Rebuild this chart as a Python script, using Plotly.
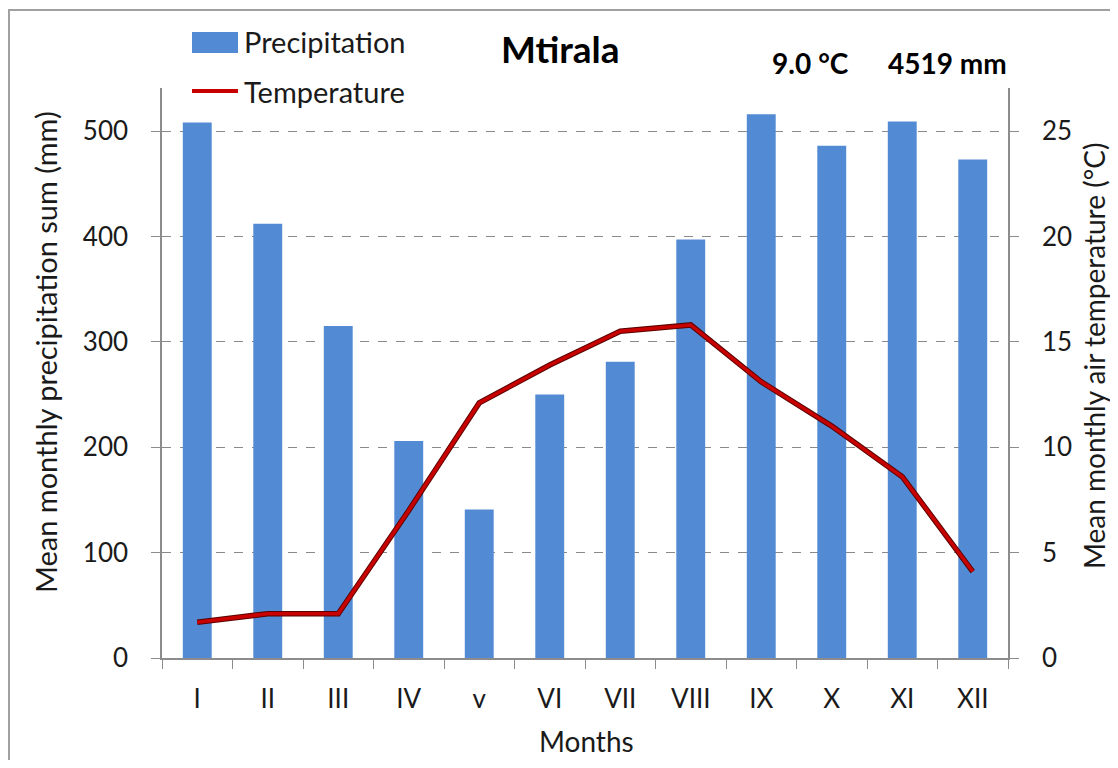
import plotly.graph_objects as go

months = ["I", "II", "III", "IV", "v", "VI", "VII", "VIII", "IX", "X", "XI", "XII"]
precipitation = [508, 412, 315, 206, 141, 250, 281, 397, 516, 486, 509, 473]
temperature = [1.7, 2.1, 2.1, 7.0, 12.1, 13.9, 15.5, 15.8, 13.1, 11.0, 8.6, 4.1]
mean_temp_label = "9.0\u202f°C"
total_precip_label = "4519 mm"

FONT = "Lato, Carlito, Calibri, 'Open Sans', sans-serif"
TXT = "#1a1a1a"
AX = "#8c8c8c"

# the page body has an 8px margin: work in page pixels and shift
OFF = 8
W, H = 1118 - 2 * OFF, 768 - 2 * OFF
L, R, T, B = 162 - OFF, 1008 - OFF, 88 - OFF, 658 - OFF

def px(xp):
    return (xp - OFF - L) / (R - L)

def py(yp):
    return (B - (yp - OFF)) / (B - T)

fig = go.Figure()
fig.add_trace(go.Bar(
    x=months, y=precipitation, name="Precipitation",
    marker=dict(color="#528bd3", line=dict(width=0)),
    yaxis="y", showlegend=False,
))
fig.add_trace(go.Scatter(
    x=months, y=temperature, name="Temperature", mode="lines",
    line=dict(color="#5a0000", width=5.5),
    yaxis="y2", showlegend=False, hoverinfo="skip",
))
fig.add_trace(go.Scatter(
    x=months, y=temperature, name="Temperature", mode="lines",
    line=dict(color="#c80000", width=3.5),
    yaxis="y2", showlegend=False,
))

ymax = (658 - 88) / ((658 - 131) / 500)
y2max = ymax / 20

fig.update_layout(
    width=W, height=H,
    margin=dict(l=L, r=W - R, t=T, b=H - B),
    paper_bgcolor="white", plot_bgcolor="white",
    bargap=0.59,
    font=dict(family=FONT, size=26, color=TXT),
    xaxis=dict(
        type="category", showline=True, linecolor=AX, linewidth=1.5,
        ticks="outside", tickson="boundaries", ticklen=9, tickcolor=AX,
        tickfont=dict(size=26, color=TXT), showgrid=False,
        ticklabelstandoff=17,
    ),
    yaxis=dict(
        range=[0, ymax], dtick=100, tick0=0,
        showline=True, linecolor=AX, linewidth=1.5,
        ticks="outside", ticklen=9, tickcolor=AX,
        showgrid=True, gridcolor="#8a8a8a", griddash="dash", gridwidth=1,
        zeroline=False, ticklabelstandoff=18,
        tickfont=dict(size=26, color=TXT),
    ),
    yaxis2=dict(
        range=[0, y2max], dtick=5, tick0=0, overlaying="y", side="right",
        showline=True, linecolor=AX, linewidth=1.5,
        ticks="outside", ticklen=9, tickcolor=AX,
        showgrid=False, zeroline=False, ticklabelstandoff=18,
        tickfont=dict(size=26, color=TXT),
    ),
)

shapes = [
    # outer border
    dict(type="rect", xref="paper", yref="paper",
         x0=px(9), x1=px(1140), y0=py(10), y1=py(800),
         line=dict(color="#a0a0a0", width=2), fillcolor="rgba(0,0,0,0)", layer="below"),
    # legend: precipitation swatch
    dict(type="rect", xref="paper", yref="paper",
         x0=px(192), x1=px(238), y0=py(53), y1=py(32),
         line=dict(width=0), fillcolor="#528bd3"),
    # legend: temperature line
    dict(type="line", xref="paper", yref="paper",
         x0=px(192), x1=px(238), y0=py(91), y1=py(91),
         line=dict(color="#c80000", width=4)),
]

annotations = [
    dict(text="Precipitation", x=px(242), y=py(42), xref="paper", yref="paper",
         xanchor="left", yanchor="middle", showarrow=False, font=dict(size=29, color=TXT)),
    dict(text="Temperature", x=px(242), y=py(91), xref="paper", yref="paper",
         xanchor="left", yanchor="middle", showarrow=False, font=dict(size=29, color=TXT)),
    dict(text="<b>Mtirala</b>", x=px(560), y=py(48), xref="paper", yref="paper",
         xanchor="center", yanchor="middle", showarrow=False, font=dict(size=37, color="#000")),
    dict(text="<b>" + mean_temp_label + "</b>", x=px(851), y=py(63), xref="paper", yref="paper",
         xanchor="right", yanchor="middle", showarrow=False, font=dict(size=28, color="#000")),
    dict(text="<b>" + total_precip_label + "</b>", x=px(1009), y=py(63), xref="paper", yref="paper",
         xanchor="right", yanchor="middle", showarrow=False, font=dict(size=28, color="#000")),
    dict(text="Mean monthly precipitation sum (mm)", x=px(45), y=py(352), xref="paper", yref="paper",
         xanchor="center", yanchor="middle", textangle=-90, showarrow=False, font=dict(size=29, color=TXT)),
    dict(text="Mean monthly air temperature (°C)", x=px(1094), y=py(356), xref="paper", yref="paper",
         xanchor="center", yanchor="middle", textangle=-90, showarrow=False, font=dict(size=28, color=TXT)),
    dict(text="Months", x=px(586), y=py(741), xref="paper", yref="paper",
         xanchor="center", yanchor="middle", showarrow=False, font=dict(size=28, color=TXT)),
]

fig.update_layout(shapes=shapes, annotations=annotations)
fig.write_html("out.html")
